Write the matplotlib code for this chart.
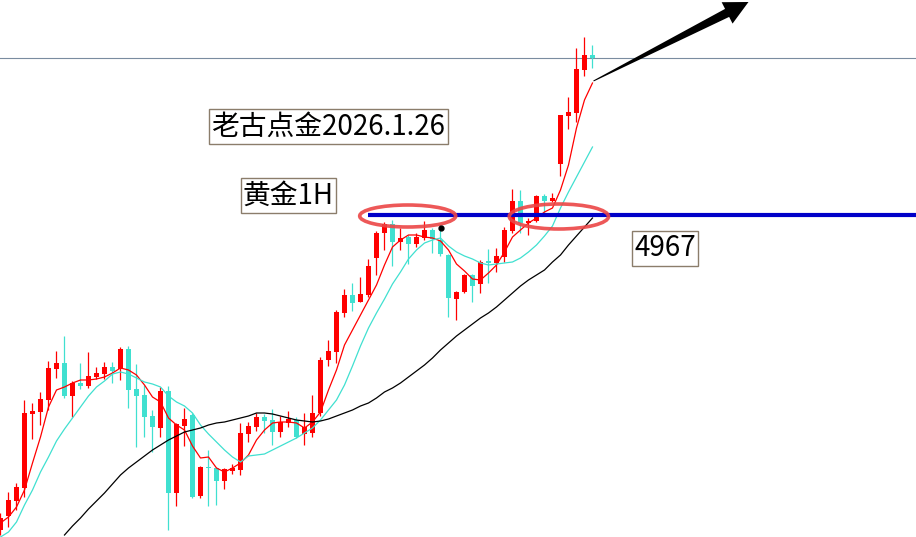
import numpy as np
import matplotlib.pyplot as plt
from matplotlib.patches import Ellipse, Polygon

plt.rcParams['font.family'] = ['Noto Sans CJK SC', 'DejaVu Sans']

# gold 1H candles
opens = [4652, 4666, 4681, 4694, 4768, 4770, 4782, 4813, 4819, 4786,
         4799, 4796, 4805, 4808, 4815, 4813, 4833, 4793, 4787, 4766,
         4754, 4791, 4689, 4756, 4767, 4686, 4715, 4714, 4701, 4711,
         4712, 4748, 4755, 4765, 4762, 4750, 4759, 4762, 4748, 4749,
         4769, 4822, 4830, 4869, 4887, 4880, 4887, 4924, 4949, 4958,
         4940, 4945, 4938, 4944, 4952, 4942, 4927, 4883, 4890, 4907,
         4898, 4921, 4919, 4925, 4951, 4981, 4959, 4961, 4986, 4981,
         5018, 5066, 5069, 5112, 5127]
highs = [4669, 4690, 4699, 4782, 4779, 4790, 4821, 4831, 4846, 4801,
         4819, 4830, 4815, 4820, 4820, 4835, 4836, 4818, 4797, 4772,
         4795, 4796, 4759, 4774, 4769, 4716, 4732, 4715, 4714, 4718,
         4759, 4760, 4769, 4768, 4773, 4766, 4771, 4765, 4769, 4787,
         4825, 4842, 4872, 4893, 4899, 4905, 4923, 4951, 4960, 4962,
         4954, 4947, 4949, 4961, 4954, 4956, 4928, 4891, 4908, 4908,
         4922, 4933, 4934, 4955, 4993, 4992, 4964, 4987, 4988, 4989,
         5067, 5085, 5134, 5145, 5137]
lows = [4647, 4655, 4672, 4685, 4743, 4757, 4772, 4804, 4784, 4765,
        4793, 4794, 4803, 4803, 4799, 4802, 4774, 4735, 4745, 4730,
        4745, 4652, 4676, 4736, 4684, 4684, 4676, 4677, 4693, 4708,
        4707, 4740, 4751, 4749, 4737, 4745, 4755, 4744, 4737, 4745,
        4766, 4816, 4819, 4865, 4871, 4880, 4885, 4907, 4932, 4916,
        4932, 4918, 4935, 4942, 4929, 4926, 4865, 4862, 4889, 4880,
        4889, 4899, 4910, 4920, 4949, 4949, 4947, 4960, 4966, 4980,
        5006, 5053, 5060, 5106, 5114]
closes = [4664, 4682, 4695, 4769, 4771, 4783, 4814, 4819, 4786, 4799,
          4796, 4806, 4809, 4815, 4811, 4833, 4792, 4786, 4765, 4755,
          4791, 4689, 4758, 4763, 4685, 4715, 4714, 4701, 4713, 4714,
          4749, 4756, 4765, 4761, 4750, 4760, 4763, 4745, 4755, 4769,
          4822, 4831, 4870, 4887, 4879, 4888, 4916, 4949, 4958, 4940,
          4944, 4938, 4945, 4952, 4943, 4928, 4884, 4890, 4907, 4896,
          4920, 4919, 4926, 4952, 4981, 4959, 4961, 4986, 4981, 4984,
          5067, 5070, 5113, 5127, 5124]

# moving average lines
ma_fast = [4659, 4665, 4675, 4692, 4719, 4745, 4775, 4792, 4795, 4799,
           4802, 4802, 4803, 4805, 4809, 4814, 4812, 4807, 4797, 4785,
           4780, 4764, 4757, 4752, 4736, 4724, 4725, 4714, 4710, 4714,
           4719, 4727, 4742, 4752, 4759, 4760, 4760, 4759, 4754, 4760,
           4770, 4792, 4812, 4837, 4852, 4867, 4882, 4897, 4917, 4935,
           4942, 4947, 4947, 4945, 4944, 4941, 4932, 4918, 4911, 4903,
           4902, 4909, 4917, 4930, 4945, 4952, 4959, 4964, 4970, 4974,
           4992, 5017, 5054, 5082, 5099]
ma_mid = [4645, 4650, 4660, 4677, 4692, 4710, 4725, 4741, 4753, 4764,
          4775, 4786, 4795, 4801, 4808, 4810, 4808, 4804, 4800, 4798,
          4795, 4786, 4780, 4776, 4769, 4757, 4748, 4740, 4732, 4725,
          4720, 4726, 4727, 4728, 4732, 4736, 4740, 4744, 4749, 4754,
          4762, 4772, 4782, 4797, 4816, 4836, 4854, 4869, 4883, 4898,
          4910, 4923, 4932, 4939, 4942, 4944, 4936, 4930, 4926, 4923,
          4919, 4917, 4918, 4919, 4920, 4924, 4930, 4937, 4946, 4956,
          4974, 4990, 5005, 5020, 5035]
ma_slow_start = 8
ma_slow = [4647, 4656, 4664, 4673, 4681, 4689, 4698, 4707, 4714, 4720,
           4726, 4732, 4737, 4742, 4746, 4750, 4752, 4754, 4757, 4759,
           4760, 4762, 4764, 4766, 4769, 4769, 4768, 4766, 4764, 4762,
           4761, 4760, 4761, 4763, 4766, 4769, 4772, 4776, 4779, 4784,
           4790, 4794, 4799, 4805, 4811, 4817, 4824, 4832, 4839, 4846,
           4852, 4858, 4864, 4869, 4875, 4882, 4889, 4896, 4902, 4907,
           4912, 4920, 4927, 4937, 4946, 4955, 4964]

level = 4967

up_col = '#ff0000'
dn_col = '#40e0d0'

fig = plt.figure(figsize=(9.16, 5.37), dpi=100)
ax = fig.add_axes([0, 0, 1, 1])
ax.set_xlim(-0.0625, 114.44)
ax.set_ylim(4645, 5182)
ax.axis('off')

o = np.array(opens)
c = np.array(closes)
x = np.arange(len(o))
cols = [up_col if cc >= oo else dn_col for oo, cc in zip(o, c)]

ax.vlines(x, lows, highs, colors=cols, lw=0.9, zorder=2)
body = np.maximum(np.abs(c - o), 1.2)
ax.bar(x, body, bottom=np.minimum(o, c), width=0.62, color=cols,
       linewidth=0, zorder=3)

ax.plot(x, ma_fast, color='#ff0000', lw=0.9, zorder=4)
ax.plot(x, ma_mid, color='#40e0d0', lw=0.9, zorder=4)
xs = np.arange(ma_slow_start, ma_slow_start + len(ma_slow))
ax.plot(xs, ma_slow, color='black', lw=0.9, zorder=4)

# current price line
ax.axhline(closes[-1], color='#7a8ca0', lw=0.8, zorder=1)

# support level
ax.hlines(level, 46, 115, color='#0000c8', lw=3, zorder=5)

for cx, cy, w, h in [(50.9, 4966, 12.0, 22), (69.8, 4965.5, 12.4, 25)]:
    ax.add_patch(Ellipse((cx, cy), w, h, fill=False, edgecolor='#ec4646',
                         lw=2.6, alpha=0.9, zorder=6))

ax.plot(55.1, 4954, 'o', color='black', ms=3.5, zorder=6)

# tapered arrow, built in pixel space (8 px per bar, 1 px per unit)
tail = np.array([593.0, 81.0])
tip = np.array([748.0, 2.0])
d = tip - tail
u = d / np.hypot(*d)
n = np.array([u[1], -u[0]])
base = tip - u * 24
pts = [tail + n * 0.5, base + n * 4.5, base + n * 12, tip,
       base - n * 12, base - n * 4.5, tail - n * 0.5]
pts = [(px / 8, 5182 - py) for px, py in pts]
ax.add_patch(Polygon(pts, closed=True, color='black', lw=0, zorder=7))

box = dict(boxstyle='square,pad=0.08', facecolor='white',
           edgecolor='#8b7d6b', lw=1)
ax.text(41.0, 5055.5, '老古点金2026.1.26', fontsize=20, ha='center',
        va='center', bbox=box, zorder=8)
ax.text(36.0, 4986.5, '黄金1H', fontsize=20, ha='center', va='center',
        bbox=box, zorder=8)
ax.text(83.06, 4933.5, '4967', fontsize=20, ha='center', va='center',
        bbox=box, zorder=8)

fig.savefig('out.png', dpi=100)
